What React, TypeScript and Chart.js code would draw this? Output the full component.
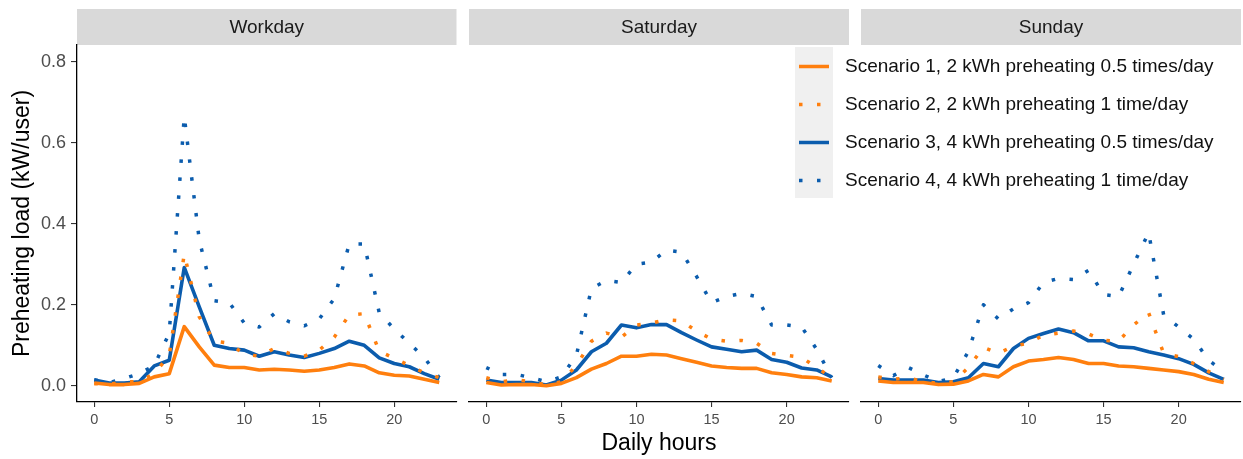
import React, { useEffect, useRef } from "react";
import { Chart, registerables } from "chart.js";

Chart.register(...registerables);

// ---------- data ----------
const hours = [0, 1, 2, 3, 4, 5, 6, 7, 8, 9, 10, 11, 12, 13, 14, 15, 16, 17, 18, 19, 20, 21, 22, 23];

const panelNames = ["Workday", "Saturday", "Sunday"];

const seriesNames = [
  "Scenario 1, 2 kWh preheating 0.5 times/day",
  "Scenario 2, 2 kWh preheating 1 time/day",
  "Scenario 3, 4 kWh preheating 0.5 times/day",
  "Scenario 4, 4 kWh preheating 1 time/day",
];

const xTickValues = [0, 5, 10, 15, 20];
const yTickValues = [0, 0.2, 0.4, 0.6, 0.8];

const workdayS1 = [0.007, 0.003, 0.003, 0.006, 0.022, 0.030, 0.146, 0.096, 0.051, 0.045, 0.045, 0.039, 0.041, 0.039, 0.036, 0.039, 0.045, 0.054, 0.049, 0.032, 0.026, 0.024, 0.016, 0.008];
const workdayS2 = [0.005, 0.004, 0.010, 0.010, 0.030, 0.075, 0.325, 0.170, 0.110, 0.105, 0.078, 0.073, 0.092, 0.080, 0.073, 0.088, 0.120, 0.175, 0.178, 0.085, 0.068, 0.050, 0.032, 0.020];
const workdayS3 = [0.014, 0.007, 0.007, 0.010, 0.049, 0.063, 0.292, 0.195, 0.100, 0.092, 0.088, 0.073, 0.084, 0.076, 0.070, 0.080, 0.092, 0.110, 0.100, 0.069, 0.055, 0.047, 0.030, 0.016];
const workdayS4 = [0.015, 0.008, 0.018, 0.030, 0.050, 0.130, 0.665, 0.360, 0.210, 0.205, 0.155, 0.145, 0.178, 0.158, 0.148, 0.165, 0.215, 0.350, 0.350, 0.180, 0.140, 0.105, 0.070, 0.020];

const saturdayS1 = [0.008, 0.002, 0.003, 0.003, 0.000, 0.006, 0.020, 0.041, 0.055, 0.073, 0.073, 0.078, 0.076, 0.067, 0.058, 0.049, 0.045, 0.043, 0.043, 0.032, 0.028, 0.022, 0.020, 0.012];
const saturdayS2 = [0.020, 0.010, 0.015, 0.010, 0.002, 0.010, 0.050, 0.110, 0.130, 0.120, 0.150, 0.155, 0.163, 0.160, 0.135, 0.115, 0.110, 0.112, 0.105, 0.080, 0.075, 0.070, 0.045, 0.020];
const saturdayS3 = [0.014, 0.008, 0.008, 0.008, 0.002, 0.014, 0.039, 0.084, 0.105, 0.150, 0.143, 0.151, 0.151, 0.131, 0.113, 0.096, 0.090, 0.084, 0.088, 0.065, 0.058, 0.044, 0.039, 0.022];
const saturdayS4 = [0.045, 0.028, 0.028, 0.020, 0.010, 0.022, 0.075, 0.240, 0.260, 0.255, 0.300, 0.305, 0.335, 0.330, 0.270, 0.205, 0.220, 0.228, 0.220, 0.150, 0.150, 0.145, 0.090, 0.020];

const sundayS1 = [0.012, 0.008, 0.008, 0.008, 0.003, 0.004, 0.012, 0.028, 0.022, 0.047, 0.061, 0.065, 0.070, 0.065, 0.055, 0.055, 0.049, 0.047, 0.043, 0.039, 0.035, 0.028, 0.016, 0.008];
const sundayS2 = [0.022, 0.016, 0.020, 0.010, 0.006, 0.010, 0.045, 0.095, 0.080, 0.098, 0.105, 0.125, 0.130, 0.135, 0.128, 0.112, 0.110, 0.150, 0.180, 0.080, 0.072, 0.055, 0.035, 0.016];
const sundayS3 = [0.018, 0.014, 0.014, 0.014, 0.008, 0.010, 0.020, 0.055, 0.047, 0.092, 0.117, 0.129, 0.140, 0.131, 0.111, 0.111, 0.096, 0.094, 0.084, 0.076, 0.067, 0.053, 0.032, 0.016];
const sundayS4 = [0.050, 0.025, 0.045, 0.027, 0.010, 0.020, 0.085, 0.200, 0.165, 0.190, 0.205, 0.255, 0.265, 0.262, 0.285, 0.225, 0.220, 0.300, 0.378, 0.175, 0.145, 0.115, 0.063, 0.035];

const panelSeries = [
  [workdayS1, workdayS2, workdayS3, workdayS4],
  [saturdayS1, saturdayS2, saturdayS3, saturdayS4],
  [sundayS1, sundayS2, sundayS3, sundayS4],
];

// ---------- styles / layout ----------
const W = 1243;
const H = 459;
const FONT = "'Liberation Sans', Arial, Helvetica, sans-serif";
const ORANGE = "#FF7F0E";
const BLUE = "#0B5CAD";
const seriesColors = [ORANGE, ORANGE, BLUE, BLUE];
const seriesDotted = [false, true, false, true];
const panelLeft = [77, 469, 861];
const panelRight = [456.5, 849, 1241];
const panelTop = 45;
const stripTop = 9;
const xAxisHeight = 57;

const stripPlugin = {
  id: "facetStrip",
  beforeDraw(chart: any, _args: any, opts: any) {
    const { ctx, chartArea } = chart;
    ctx.save();
    ctx.fillStyle = "#d9d9d9";
    ctx.fillRect(chartArea.left, stripTop, chartArea.right - chartArea.left, chartArea.top - stripTop);
    ctx.fillStyle = "#1a1a1a";
    ctx.font = `19px ${FONT}`;
    ctx.textAlign = "center";
    ctx.textBaseline = "middle";
    ctx.fillText(opts.label, (chartArea.left + chartArea.right) / 2, (stripTop + chartArea.top) / 2 + 1);
    ctx.restore();
  },
};

const legendPlugin = {
  id: "facetLegend",
  afterDraw(chart: any) {
    const { ctx } = chart;
    const keyX = 795;
    const keyW = 38;
    const rowY = [66.5, 104.5, 142.5, 180.5];
    ctx.save();
    ctx.fillStyle = "#f0f0f0";
    ctx.fillRect(keyX, 47, keyW, 151);
    seriesNames.forEach((name, i) => {
      const y = rowY[i];
      ctx.beginPath();
      ctx.strokeStyle = seriesColors[i];
      ctx.lineWidth = 3.5;
      ctx.lineCap = "butt";
      ctx.setLineDash(seriesDotted[i] ? [3.5, 14.5] : []);
      ctx.moveTo(keyX + 4, y);
      ctx.lineTo(keyX + keyW - 4, y);
      ctx.stroke();
      ctx.setLineDash([]);
      ctx.fillStyle = "#111";
      ctx.font = `19px ${FONT}`;
      ctx.textAlign = "left";
      ctx.textBaseline = "middle";
      ctx.fillText(name, 845, y);
    });
    ctx.restore();
  },
};

function makeConfig(p: number): any {
  const datasets = panelSeries[p].map((vals, i) => ({
    label: seriesNames[i],
    data: hours.map((h, k) => ({ x: h, y: vals[k] })),
    borderColor: seriesColors[i],
    backgroundColor: seriesColors[i],
    borderWidth: seriesDotted[i] ? 3.5 : 3.6,
    borderDash: seriesDotted[i] ? [3.5, 14.5] : [],
    borderCapStyle: "butt",
    borderJoinStyle: "round",
    pointRadius: 0,
    fill: false,
    tension: 0,
  }));
  return {
    type: "line",
    data: { datasets },
    plugins: p === 2 ? [stripPlugin, legendPlugin] : [stripPlugin],
    options: {
      responsive: false,
      animation: false,
      events: [],
      layout: { padding: { left: p === 0 ? 0 : panelLeft[p], right: W - panelRight[p], top: panelTop, bottom: 0 } },
      plugins: {
        legend: { display: false },
        tooltip: { enabled: false },
        facetStrip: { label: panelNames[p] },
      },
      scales: {
        x: {
          type: "linear",
          min: -1.15,
          max: 24.15,
          afterBuildTicks: (s: any) => {
            s.ticks = xTickValues.map((v) => ({ value: v }));
          },
          afterFit: (s: any) => {
            s.height = xAxisHeight;
          },
          grid: { display: true, drawOnChartArea: false, drawTicks: true, tickLength: 5, color: "#333", lineWidth: 1.1 },
          border: { display: true, color: "#000", width: 1.3 },
          ticks: {
            color: "#4d4d4d",
            font: { family: FONT, size: 14.5 },
            padding: 4,
            maxRotation: 0,
            autoSkip: false,
            callback: (v: any) => String(v),
          },
          title: {
            display: p === 1,
            text: "Daily hours",
            color: "#000",
            font: { family: FONT, size: 23 },
            padding: { top: 0, bottom: 2 },
          },
        },
        y: {
          display: p === 0,
          min: -0.04,
          max: 0.841,
          afterBuildTicks: (s: any) => {
            s.ticks = yTickValues.map((v) => ({ value: v }));
          },
          afterFit: (s: any) => {
            s.width = p === 0 ? panelLeft[0] : 0;
          },
          grid: { display: true, drawOnChartArea: false, drawTicks: true, tickLength: 6, color: "#333", lineWidth: 1.1 },
          border: { display: true, color: "#000", width: 1.3 },
          ticks: {
            color: "#4d4d4d",
            font: { family: FONT, size: 18 },
            padding: 5,
            autoSkip: false,
            callback: (v: any) => Number(v).toFixed(1),
          },
          title: {
            display: true,
            text: "Preheating load (kW/user)",
            color: "#000",
            font: { family: FONT, size: 23 },
            padding: { top: 9, bottom: 0 },
          },
        },
      },
    },
  };
}

export default function App() {
  const r0 = useRef<HTMLCanvasElement>(null);
  const r1 = useRef<HTMLCanvasElement>(null);
  const r2 = useRef<HTMLCanvasElement>(null);

  useEffect(() => {
    const refs = [r0, r1, r2];
    const charts = refs.map((r, p) => new Chart(r.current as HTMLCanvasElement, makeConfig(p)));
    return () => charts.forEach((c) => c.destroy());
  }, []);

  const canvasStyle: React.CSSProperties = { position: "absolute", left: 0, top: 0, width: W, height: H };
  return (
    <div style={{ position: "fixed", left: 0, top: 0, width: W, height: H, background: "#fff" }}>
      <canvas ref={r0} width={W} height={H} style={canvasStyle} />
      <canvas ref={r1} width={W} height={H} style={canvasStyle} />
      <canvas ref={r2} width={W} height={H} style={canvasStyle} />
    </div>
  );
}
